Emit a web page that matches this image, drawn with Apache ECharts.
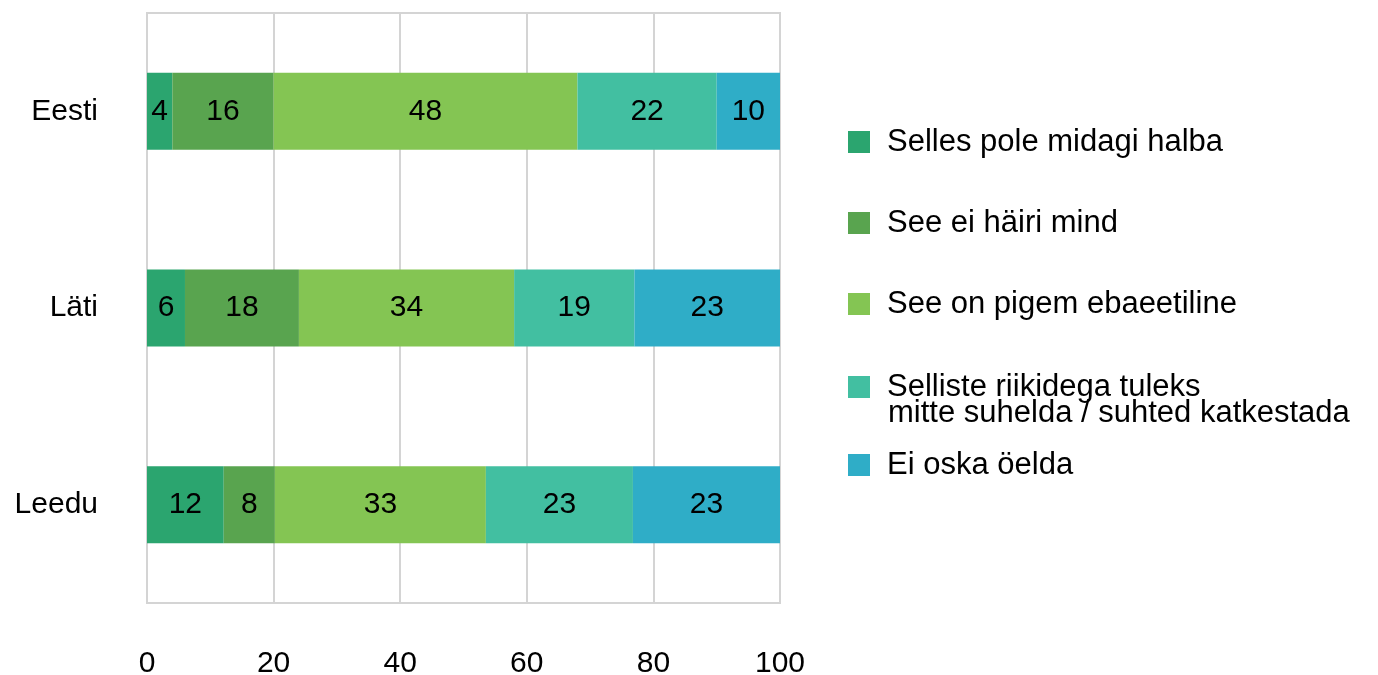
<!DOCTYPE html>
<html>
<head>
<meta charset="utf-8">
<script src="https://cdn.jsdelivr.net/npm/echarts@6/dist/echarts.min.js"></script>
<style>html,body{margin:0;padding:0;background:#fff}#c{width:1378px;height:675px}</style>
</head>
<body>
<div id="c"></div>
<script>
const categories = ['Eesti', 'Läti', 'Leedu'];
const seriesNames = [
  'Selles pole midagi halba',
  'See ei häiri mind',
  'See on pigem ebaeetiline',
  'Selliste riikidega tuleks mitte suhelda / suhted katkestada',
  'Ei oska öelda'
];
const s1 = [4, 6, 12];
const s2 = [16, 18, 8];
const s3 = [48, 34, 33];
const s4 = [22, 19, 23];
const s5 = [10, 23, 23];
const xTicks = [0, 20, 40, 60, 80, 100];

const colors = ['#2ba56f', '#59a44f', '#84c553', '#42bfa1', '#2fadc7'];
const FONT = "'Liberation Sans', Arial, sans-serif";
const FS = 30;
const LFS = 31;

const all = [s1, s2, s3, s4, s5];
const totals = categories.map((c, i) => all.reduce((a, s) => a + s[i], 0));

const series = all.map((arr, k) => ({
  name: seriesNames[k],
  type: 'bar',
  stack: 'total',
  barWidth: 77,
  itemStyle: { color: colors[k] },
  label: {
    show: true,
    position: 'inside',
    color: '#000',
    fontSize: FS,
    fontFamily: FONT,
    formatter: p => p.data.raw
  },
  emphasis: { disabled: true },
  data: arr.map((v, i) => ({ value: v / totals[i] * 100, raw: v }))
}));

const legendCenters = [137, 218, 299, 382, 460];
const legends = seriesNames.map((n, k) => ({
  orient: 'vertical',
  left: 843,
  top: legendCenters[k] - 16,
  itemWidth: 22,
  itemHeight: 22,
  itemGap: 16,
  icon: 'rect',
  selectedMode: false,
  data: [n],
  formatter: k === 3 ? () => 'Selliste riikidega tuleks' : undefined,
  textStyle: { fontSize: LFS, fontFamily: FONT, color: '#000', lineHeight: 32, padding: [0, 0, 0, 12] }
}));

const chart = echarts.init(document.getElementById('c'));
chart.setOption({
  animation: false,
  backgroundColor: '#fff',
  color: colors,
  textStyle: { fontFamily: FONT },
  grid: { left: 147, right: 598, top: 13, bottom: 72, show: true, borderColor: '#d4d4d4', borderWidth: 2, backgroundColor: 'transparent', containLabel: false, outerBoundsMode: 'none' },
  legend: legends,
  graphic: [{
    type: 'text',
    left: 888,
    top: 397,
    style: { text: 'mitte suhelda / suhted katkestada', fontSize: LFS, fontFamily: FONT, fill: '#000', lineHeight: 32 }
  }],
  xAxis: {
    type: 'value',
    min: xTicks[0],
    max: xTicks[xTicks.length - 1],
    interval: 20,
    axisLine: { show: false },
    axisTick: { show: false },
    axisLabel: { fontSize: FS, fontFamily: FONT, color: '#000', margin: 46 },
    splitLine: { show: true, lineStyle: { color: '#d4d4d4', width: 2 } }
  },
  yAxis: {
    type: 'category',
    inverse: true,
    data: categories,
    axisLine: { show: false },
    axisTick: { show: false },
    axisLabel: { fontSize: FS, fontFamily: FONT, color: '#000', margin: 49 }
  },
  series: series
});
</script>
</body>
</html>
